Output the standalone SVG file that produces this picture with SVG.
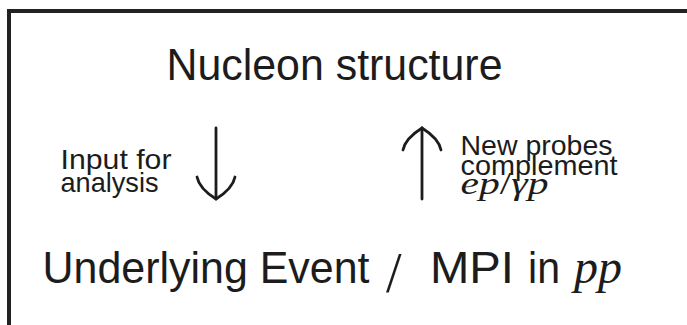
<svg xmlns="http://www.w3.org/2000/svg" width="687" height="325" viewBox="0 0 687 325">
<style>
.sans{font-family:"Liberation Sans",Arial,sans-serif;fill:#1c1c1c}
.math{font-family:"Liberation Serif","Times New Roman",serif;font-style:italic;fill:#1c1c1c}
.up{font-family:"Liberation Serif","Times New Roman",serif;font-style:normal;fill:#1c1c1c}
.big{font-size:45px}
.small{font-size:28px}
.frame{fill:none;stroke:#222;stroke-width:4}
.arr{fill:none;stroke:#1c1c1c;stroke-width:2.8;stroke-linecap:round}
</style>
<rect width="687" height="325" fill="#fff"/>
<path class="frame" d="M9,325 V11 H687"/>
<g id="nucleon-structure">
<text class="sans big" x="166.5" y="80" textLength="336" lengthAdjust="spacingAndGlyphs">Nucleon structure</text>
</g>
<g id="underlying-event">
<text class="sans big" x="42.5" y="283" textLength="327" lengthAdjust="spacingAndGlyphs">Underlying Event</text>
<text class="up" x="386" y="292" font-size="56">/</text>
<text class="sans big" x="430" y="283" textLength="84" lengthAdjust="spacingAndGlyphs">MPI</text>
<text class="sans big" x="528" y="283" textLength="32" lengthAdjust="spacingAndGlyphs">in</text>
<text class="math" x="574" y="283" font-size="48" textLength="48" lengthAdjust="spacingAndGlyphs">pp</text>
</g>
<g id="label-input">
<text class="sans small" x="60.5" y="169" textLength="111" lengthAdjust="spacingAndGlyphs">Input for</text>
<text class="sans small" x="60.5" y="191.5" textLength="98" lengthAdjust="spacingAndGlyphs">analysis</text>
</g>
<g id="label-probes">
<text class="sans small" x="460.5" y="154.5" textLength="152" lengthAdjust="spacingAndGlyphs">New probes</text>
<text class="sans small" x="460.5" y="175" textLength="157" lengthAdjust="spacingAndGlyphs">complement</text>
<text x="460.5" y="194" font-size="32" textLength="88" lengthAdjust="spacingAndGlyphs"><tspan class="math">ep</tspan><tspan class="up">/</tspan><tspan class="math">γp</tspan></text>
</g>
<g id="connectors">
<g id="arrow-down">
<path class="arr" d="M216,128 V199"/>
<path class="arr" d="M216,199 C208,194 199,187 197,177 M216,199 C224,194 233,187 235,177"/>
</g>
<g id="arrow-up">
<path class="arr" d="M422,128 V199"/>
<path class="arr" d="M422,128 C414,133 405,140 403,150 M422,128 C430,133 439,140 441,150"/>
</g>
</g>
</svg>
